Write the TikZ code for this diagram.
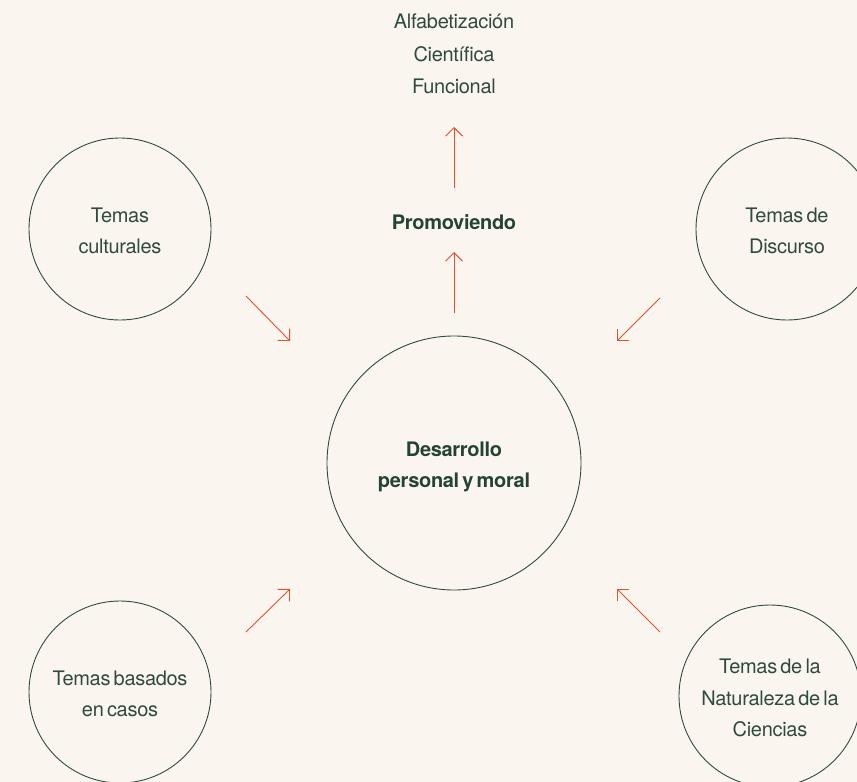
\documentclass[tikz,border=0pt]{standalone}
\usepackage{fontspec}
\setmainfont{TeX Gyre Heros}[LetterSpace=-1.5, WordSpace=0.6]
\usetikzlibrary{arrows.meta}
\definecolor{bg}{HTML}{FAF5EF}
\definecolor{ink}{HTML}{2E4B3C}
\definecolor{bink}{HTML}{254332}
\definecolor{arr}{HTML}{E0532D}
\tikzset{
  ring/.style={circle, draw=ink, line width=0.9pt, inner sep=0pt},
  topic/.style={ring, minimum size=182pt},
  core/.style={ring, minimum size=254pt},
  lbl/.style={text=ink, align=center, font=\fontsize{20}{31.5}\selectfont, inner sep=0pt},
  blbl/.style={text=bink, align=center, font=\fontsize{20}{31.5}\selectfont\bfseries, inner sep=0pt},
  flow/.style={draw=arr, line width=0.9pt, -{Straight Barb[length=8.5pt,width=17pt,line width=0.9pt]}}
}
\begin{document}
\begin{tikzpicture}[x=1pt,y=-1pt]
\fill[bg] (0,0) rectangle (857,782);
\useasboundingbox (0,0) rectangle (857,782);
\begin{scope}
\clip (0,0) rectangle (857,782);
\node[core] (center) at (454,463) {};
\node[topic] (tl) at (120,229) {};
\node[topic] (tr) at (787,229) {};
\node[topic] (bl) at (120,692) {};
\node[topic] (br) at (770,696) {};
\end{scope}
\node[blbl] (centertext) at (454,467) {Desarrollo\\personal y moral};
\node[lbl] (tltext) at (120,231) {Temas\\culturales};
\node[lbl] (trtext) at (787,231) {Temas de\\Discurso};
\node[lbl] (bltext) at (120,694) {Temas basados\\en casos};
\node[lbl] (brtext) at (770,698) {Temas de la\\Naturaleza de la\\Ciencias};
\node[blbl] (promo) at (454,222) {Promoviendo};
\node[lbl, font=\fontsize{20}{32.5}\selectfont] (goal) at (454,54) {Alfabetización\\Científica\\Funcional};
\coordinate (u1s) at (454,313); \coordinate (u1e) at (454,252);
\coordinate (u2s) at (454,188); \coordinate (u2e) at (454,127);
\coordinate (tls) at (246,296); \coordinate (tle) at (290,341);
\coordinate (trs) at (660,298); \coordinate (tre) at (617,341);
\coordinate (bls) at (246,632); \coordinate (ble) at (290,589);
\coordinate (brs) at (660,632); \coordinate (bre) at (617,589);
\draw[flow] (u1s) -- (u1e);
\draw[flow] (u2s) -- (u2e);
\draw[flow] (tls) -- (tle);
\draw[flow] (trs) -- (tre);
\draw[flow] (bls) -- (ble);
\draw[flow] (brs) -- (bre);
\end{tikzpicture}
\end{document}
